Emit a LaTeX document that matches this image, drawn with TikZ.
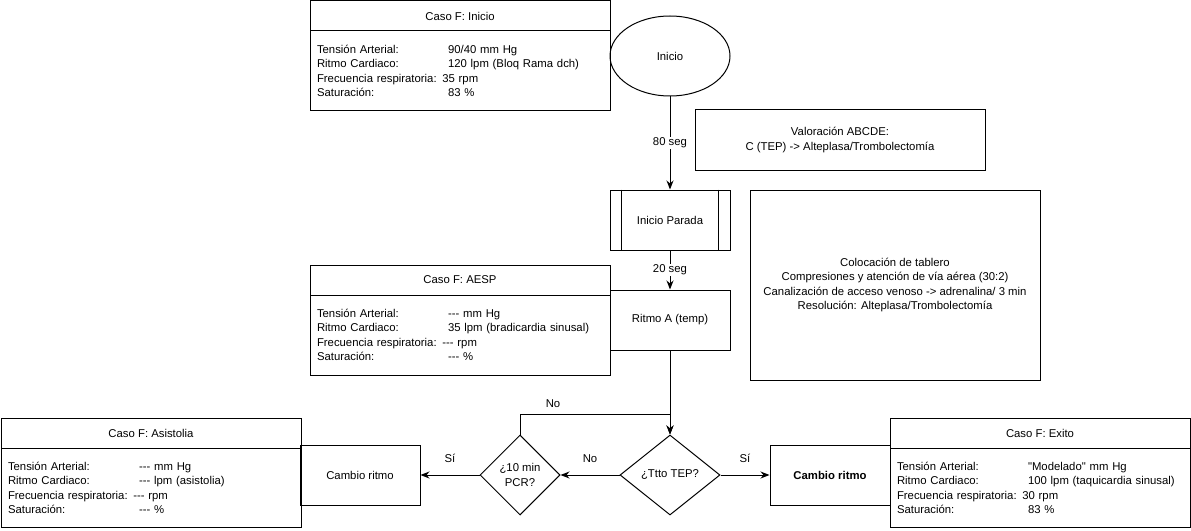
\documentclass[tikz,border=0pt]{standalone}
\usepackage{fontspec}
\newfontfamily\arial{Liberation Sans}
\usetikzlibrary{arrows.meta,shapes.geometric,positioning}

\newcommand{\dato}[2]{\makebox[98.25pt][l]{#1}\mbox{#2}}

\begin{document}
\begin{tikzpicture}[x=0.75pt,y=0.75pt,yscale=-1,xscale=1,
  every node/.style={font=\arial\fontsize{8.5}{10.9}\selectfont},
  caja/.style={draw, line width=0.75pt, minimum width=90pt, minimum height=45pt, inner sep=1pt, align=center},
  titulo/.style={draw, line width=0.75pt, outer sep=0pt, minimum width=225pt, minimum height=22.5pt, inner sep=0pt},
  datos/.style={draw, line width=0.75pt, outer sep=0pt, text width=214.5pt, inner xsep=5.25pt, minimum height=60pt, align=left},
  rombo/.style={draw, line width=0.75pt, diamond, minimum height=60pt, inner sep=0pt, align=center},
  flecha/.style={line width=0.75pt, -{Stealth[length=6.75pt,width=5.25pt]}},
  tiempo/.style={fill=white, inner sep=1pt},
  rama/.style={above=9pt, inner sep=0pt}]
\useasboundingbox (0,0) rectangle (1191,531);

% Caso F: Inicio
\node[titulo] (inicioT) at (460,16) {Caso F: Inicio};
\node[datos, below=0pt of inicioT] (inicioD) {\dato{Tensión Arterial:}{90/40 mm Hg}\\
  \dato{Ritmo Cardiaco:}{120 lpm (Bloq Rama dch)}\\
  \mbox{Frecuencia respiratoria: 35 rpm}\\
  \dato{Saturación:}{83 \%}};
% Caso F: AESP
\node[titulo] (aespT) at (460,280) {Caso F: AESP};
\node[datos, below=0pt of aespT] (aespD) {\dato{Tensión Arterial:}{--- mm Hg}\\
  \dato{Ritmo Cardiaco:}{35 lpm (bradicardia sinusal)}\\
  \mbox{Frecuencia respiratoria: --- rpm}\\
  \dato{Saturación:}{--- \%}};
% Caso F: Asistolia
\node[titulo] (asistoliaT) at (151,433.5) {Caso F: Asistolia};
\node[datos, below=0pt of asistoliaT, minimum height=59pt] (asistoliaD) {\dato{Tensión Arterial:}{--- mm Hg}\\
  \dato{Ritmo Cardiaco:}{--- lpm (asistolia)}\\
  \mbox{Frecuencia respiratoria: --- rpm}\\
  \dato{Saturación:}{--- \%}};
% Caso F: Exito
\node[titulo] (exitoT) at (1040,433.5) {Caso F: Exito};
\node[datos, below=0pt of exitoT, minimum height=59pt] (exitoD) {\dato{Tensión Arterial:}{"Modelado" mm Hg}\\
  \dato{Ritmo Cardiaco:}{100 lpm (taquicardia sinusal)}\\
  \mbox{Frecuencia respiratoria: 30 rpm}\\
  \dato{Saturación:}{83 \%}};

% Flujo
\node[draw, ellipse, line width=0.75pt, minimum width=90pt, minimum height=60pt] (inicio) at (670,56) {Inicio};
\node[caja, minimum width=217.5pt] (valoracion) at (840,140) {Valoración ABCDE:\\C (TEP) -> Alteplasa/Trombolectomía};
\node[caja] (parada) at (670,220) {Inicio Parada};
\draw[line width=0.75pt] ([xshift=9pt]parada.north west) -- ([xshift=9pt]parada.south west);
\draw[line width=0.75pt] ([xshift=-9pt]parada.north east) -- ([xshift=-9pt]parada.south east);
\node[caja, minimum width=217.5pt, minimum height=142.5pt] (colocacion) at (895,285) {Colocación de tablero\\Compresiones y atención de vía aérea (30:2)\\Canalización de acceso venoso -> adrenalina/ 3 min\\Resolución: Alteplasa/Trombolectomía};
\node[caja] (ritmoA) at (670,320) {Ritmo A (temp)};
\node[rombo, minimum width=75pt] (ttto) at (670,475) {¿Ttto TEP?};
\node[rombo, minimum width=60pt] (pcr) at (520,475) {¿10 min\\PCR?};
\node[caja] (cambioI) at (360,475) {Cambio ritmo};
\node[caja] (cambioD) at (830,475) {\bfseries Cambio ritmo};

% Conectores
\draw[flecha] (inicio) -- (parada) node[tiempo, midway] {80 seg};
\draw[flecha] (parada) -- (ritmoA) node[tiempo, midway] {20 seg};
\draw[flecha] (ritmoA) -- (ttto);
\draw[flecha] (pcr.north) -- ++(0,-20) -| (ttto.north) node[pos=0.11, above=5pt, inner sep=0pt] {No};
\draw[flecha] (ttto) -- (pcr) node[rama, midway] {No};
\draw[flecha] (pcr) -- (cambioI) node[rama, midway] {Sí};
\draw[flecha] (ttto) -- (cambioD) node[rama, midway] {Sí};

\end{tikzpicture}
\end{document}
